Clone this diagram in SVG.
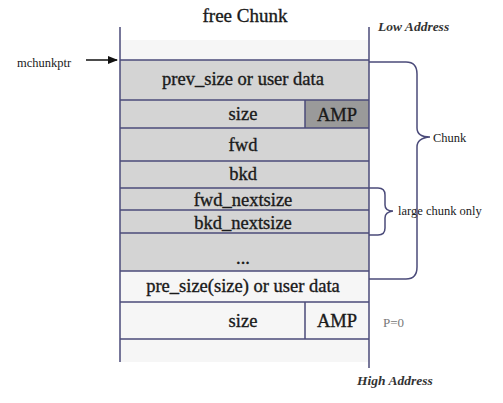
<svg xmlns="http://www.w3.org/2000/svg" width="503" height="403" viewBox="0 0 503 403">
<defs>
<style>
text{font-family:"Liberation Serif","DejaVu Serif",serif;fill:#1a1a1a}
.f{font-size:18.5px;text-anchor:middle;stroke:#1a1a1a;stroke-width:0.35}
.s{font-size:12.5px}
.it{font-style:italic;font-size:13.5px;font-weight:bold;fill:#333}
.ln{stroke:#4b4b7a;stroke-width:1.5;fill:none}
.g{fill:#d4d4d4}
.w{fill:#f6f6f6}
</style>
<marker id="ah" markerWidth="10" markerHeight="8" refX="9" refY="4" orient="auto" markerUnits="userSpaceOnUse">
<path d="M0,0 L10,4 L0,8 z" fill="#111"/>
</marker>
</defs>
<rect width="503" height="403" fill="#fff"/>
<text x="245" y="22" class="f" style="font-size:19px">free Chunk</text>
<text x="378" y="31" class="it">Low Address</text>
<text x="357" y="385" class="it">High Address</text>
<text x="17" y="67" class="s">mchunkptr</text>
<rect x="120" y="40" width="249" height="20" class="w"/>
<g id="prev_size"><rect x="120" y="60" width="249" height="40" class="g"/><text x="243" y="85" class="f">prev_size or user data</text></g>
<g id="size1"><rect x="120" y="100" width="249" height="28" class="g"/><rect x="305" y="100" width="64" height="28" fill="#9a9a9a"/><text x="243" y="120" class="f">size</text><text x="337" y="121" class="f">AMP</text></g>
<g id="fwd"><rect x="120" y="128" width="249" height="33" class="g"/><text x="243" y="151" class="f">fwd</text></g>
<g id="bkd"><rect x="120" y="161" width="249" height="27" class="g"/><text x="243" y="180" class="f">bkd</text></g>
<g id="fwd_nextsize"><rect x="120" y="188" width="249" height="22" class="g"/><text x="243" y="206" class="f">fwd_nextsize</text></g>
<g id="bkd_nextsize"><rect x="120" y="210" width="249" height="23" class="g"/><text x="243" y="229" class="f">bkd_nextsize</text></g>
<g id="dots"><rect x="120" y="233" width="249" height="38" class="g"/><text x="243" y="264" class="f">...</text></g>
<g id="pre_size"><rect x="120" y="271" width="249" height="31" class="w"/><text x="243" y="292" class="f">pre_size(size) or user data</text></g>
<g id="size2"><rect x="120" y="302" width="249" height="37" class="w"/><text x="243" y="327" class="f">size</text><text x="337" y="327" class="f">AMP</text></g>
<rect x="120" y="339" width="249" height="23" class="w"/>
<text x="383" y="327" class="s" style="fill:#777;font-size:13px">P=0</text>
<text x="433" y="142" class="s">Chunk</text>
<text x="398" y="215" class="s">large chunk only</text>
<g id="connectors">
<path class="ln" d="M120,27 V362 M369,27 V368"/>
<path class="ln" d="M120,60 H369 M120,100 H369 M120,128 H369 M120,161 H369 M120,188 H369 M120,210 H369 M120,233 H369 M120,271 H369 M120,302 H369 M120,339 H369 M305,100 V128 M305,302 V339"/>
<path class="ln" d="M369,62 H406 Q417,62 417,74 V128 Q417,137 430,137 M430,137 Q417,138 417,147 V267 Q417,279 406,279 H369"/>
<path class="ln" d="M369,188 H378 Q385,188 385,195 V205 Q385,211 393,211 M393,211 Q385,212 385,218 V228 Q385,235 378,235 H369"/>
<line x1="86" y1="60" x2="117" y2="60" stroke="#111" stroke-width="1.5" marker-end="url(#ah)"/>
</g>
</svg>
